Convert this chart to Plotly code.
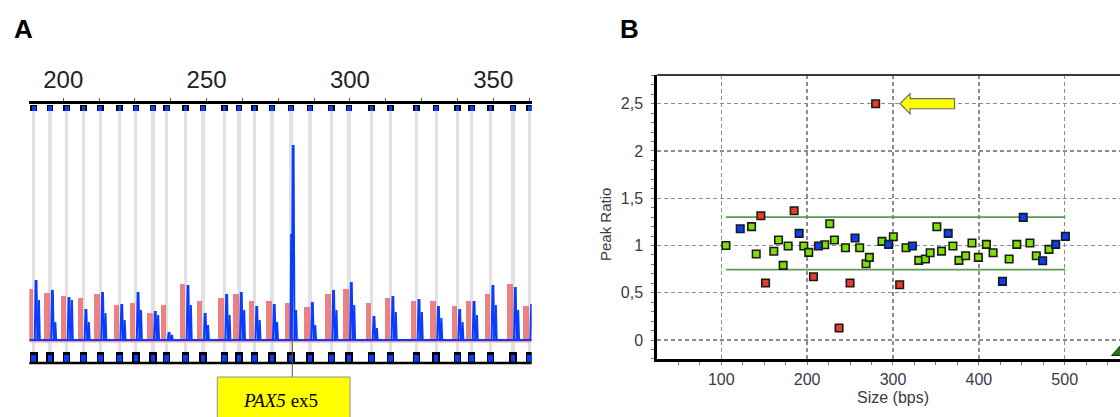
import plotly.graph_objects as go

W, H = 1120, 417

# ---------------- Panel A data (fragment sizes, peak heights) ----------------
bin_sizes = [189.7, 195.4, 201.2, 207.1, 212.9, 219.6, 225.3, 231.3, 236.1, 242.7,
             248.7, 256.2, 261.3, 266.7, 272.8, 279.4, 286.1, 293.5, 299.7, 307.6,
             314.2, 323.3, 330.1, 337.5, 342.5, 349.1, 356.9, 362.6]
red_heights = [52, 48, 45, 43, 47, 36, 38, 28, 36, 57,
               40, 43, 47, 40, 40, 38, 34, 47, 52, 38,
               43, 40, 40, 35, 40, 47, 57, 35]
blue_heights = [59, 49, 42, 30, 47, 35, 47, 28, 7, 54,
                26, 45, 47, 33, 35, 194, 37, 49, 57, 23,
                43, 40, 33, 30, 38, 54, 52, 35]
blue_second_heights = [40, 18, 40, 18, 27, 20, 30, 25, 5, 35,
                       15, 25, 30, 20, 18, 30, 15, 30, 35, 12,
                       28, 28, 22, 18, 25, 35, 30, 22]
blue_shoulder_sizes = [279.6]
blue_shoulder_heights = [105]
label_size = 279.9
label_text = "<i>PAX5</i> ex5"

# ---------------- Panel B data (size vs peak ratio) ----------------
green_size = [105.4, 135.3, 140.7, 161.2, 166.7, 172.1, 177.9, 196.1, 201.9, 220.5,
              226.4, 231.8, 244.6, 261.2, 268.6, 272.5, 287.2, 300.4, 315.2, 330.0,
              337.8, 343.3, 351.1, 356.5, 369.8, 376.8, 384.6, 392.0, 399.4, 408.8,
              416.6, 435.3, 444.2, 459.5, 466.9, 481.7]
green_ratio = [1.0, 1.2, 0.91, 0.94, 1.058, 0.79, 0.994, 0.994, 0.927, 1.008,
               1.23, 1.058, 0.977, 0.977, 0.807, 0.874, 1.044, 1.093, 0.977, 0.843,
               0.857, 0.924, 1.199, 0.941, 0.994, 0.843, 0.892, 1.026, 0.874, 1.012,
               0.924, 0.857, 1.012, 1.026, 0.892, 0.959]
blue_size = [122.1, 190.7, 213.2, 255.8, 294.9, 322.6, 364.3, 427.5, 451.7, 474.3, 489.5, 500.8]
blue_ratio = [1.178, 1.128, 0.994, 1.079, 1.012, 0.994, 1.128, 0.621, 1.298, 0.839, 1.012, 1.097]
red_size = [146.1, 151.6, 184.9, 207.4, 237.2, 250.0, 279.8, 307.8]
red_ratio = [1.315, 0.603, 1.368, 0.67, 0.127, 0.603, 2.5, 0.585]
threshold_upper = 1.3
threshold_lower = 0.745
threshold_span = [105.4, 500.8]
ytick_vals = [0, 0.5, 1, 1.5, 2, 2.5]
ytick_text = ["0", "0,5", "1", "1,5", "2", "2,5"]
arrow_tip = (308.2, 2.5)
arrow_tail = 371.7

# ---------------- helpers ----------------
def fx(px):
    return px / W

def fy(py):
    return (H - py) / H

# Panel A axes geometry: y data = 340 - pixel row (baseline at row 340)
A_XRANGE = [188.14, 363.43]
A_YRANGE = [-25, 236.2]
RED_OFF, BLUE_OFF, BLUE2_OFF = -1.1, 0.8, 1.7

BLUE = "#0a3cff"
RED = "rgba(232,112,112,0.88)"

fig = go.Figure()

# grey bin columns
fig.add_trace(go.Bar(x=bin_sizes, y=[242] * len(bin_sizes), base=-12, width=1.15,
                     marker=dict(color="#e2e2e6", line=dict(width=0)),
                     xaxis="x", yaxis="y", hoverinfo="skip"))
# ruler bin markers (top)
fig.add_trace(go.Bar(x=bin_sizes, y=[6] * len(bin_sizes), base=229.5, width=2.3,
                     marker=dict(color="#000000", line=dict(width=0)),
                     xaxis="x", yaxis="y", hoverinfo="skip"))
fig.add_trace(go.Bar(x=bin_sizes, y=[4.5] * len(bin_sizes), base=229.5, width=1.25,
                     marker=dict(color="#0a3cff", line=dict(width=0)),
                     xaxis="x", yaxis="y", hoverinfo="skip"))
# ruler bin markers (bottom)
fig.add_trace(go.Bar(x=bin_sizes, y=[10] * len(bin_sizes), base=-22, width=2.6,
                     marker=dict(color="#000000", line=dict(width=0)),
                     xaxis="x", yaxis="y", hoverinfo="skip"))
fig.add_trace(go.Bar(x=bin_sizes, y=[7.2] * len(bin_sizes), base=-22, width=1.6,
                     marker=dict(color="#0a3cff", line=dict(width=0)),
                     xaxis="x", yaxis="y", hoverinfo="skip"))

# red trace baseline + peaks
fig.add_trace(go.Scatter(x=A_XRANGE, y=[-1.6, -1.6], mode="lines",
                         line=dict(color="#f0a0a0", width=2), xaxis="x", yaxis="y",
                         hoverinfo="skip"))
fig.add_trace(go.Bar(x=[b + RED_OFF for b in bin_sizes], y=red_heights, base=-1, width=1.9,
                     marker=dict(color=RED, line=dict(width=0)),
                     xaxis="x", yaxis="y", hoverinfo="skip"))

# blue trace
bx, by = [A_XRANGE[0], A_XRANGE[1], None], [0, 0, None]
for b, h, h2 in zip(bin_sizes, blue_heights, blue_second_heights):
    c = b + BLUE_OFF
    bx += [c - 0.45, c - 0.15, c + 0.15, c + 0.45, None]
    by += [0, h, h, 0, None]
    c2 = b + BLUE2_OFF
    bx += [c2 - 0.4, c2 - 0.12, c2 + 0.12, c2 + 0.4, None]
    by += [0, h2, h2, 0, None]
for c, h in zip(blue_shoulder_sizes, blue_shoulder_heights):
    bx += [c - 0.3, c - 0.1, c + 0.3, None]
    by += [0, h, h, None]
fig.add_trace(go.Scatter(x=bx, y=by, mode="lines", line=dict(color=BLUE, width=2),
                         xaxis="x", yaxis="y", hoverinfo="skip", connectgaps=False))

# ---------------- Panel B traces ----------------
for xs_ in ([threshold_span, [threshold_upper] * 2], [threshold_span, [threshold_lower] * 2]):
    fig.add_trace(go.Scatter(x=xs_[0], y=xs_[1], mode="lines",
                             line=dict(color="#5a9a55", width=1.6),
                             xaxis="x2", yaxis="y2", hoverinfo="skip"))

for xs_, ys_, col in ((green_size, green_ratio, "#7fe000"),
                      (blue_size, blue_ratio, "#0a40f5"),
                      (red_size, red_ratio, "#ea3a2a")):
    fig.add_trace(go.Scatter(x=xs_, y=ys_, mode="markers",
                             marker=dict(symbol="square", size=7.5, color=col,
                                         line=dict(color="#1a1a1a", width=1.6)),
                             xaxis="x2", yaxis="y2"))

shapes = []
# bottom ruler line panel A
shapes.append(dict(type="line", xref="x domain", yref="y", x0=0, x1=1, y0=-23, y1=-23,
                   line=dict(color="#000", width=2.6)))
# connector line to label
shapes.append(dict(type="line", xref="x", yref="paper", x0=label_size, x1=label_size,
                   y0=fy(338), y1=fy(377), line=dict(color="#555", width=1)))
# label box
shapes.append(dict(type="rect", xref="paper", yref="paper", x0=fx(217.3), x1=fx(350),
                   y0=fy(440), y1=fy(377), fillcolor="#ffff00",
                   line=dict(color="#909090", width=1)))
# panel B top border
shapes.append(dict(type="line", xref="x2 domain", yref="y2 domain", x0=0, x1=1, y0=1, y1=1,
                   line=dict(color="#3a3a3a", width=2)))
# yellow arrow
tx, ty = arrow_tip
hx = tx + 11.7
path = (f"M {tx},{ty} L {hx},{ty + 0.107} L {hx},{ty + 0.053} L {arrow_tail},{ty + 0.053} "
        f"L {arrow_tail},{ty - 0.053} L {hx},{ty - 0.053} L {hx},{ty - 0.107} Z")
shapes.append(dict(type="path", xref="x2", yref="y2", path=path, fillcolor="#ffff00",
                   line=dict(color="#6e6e6e", width=1.2)))
# green triangle peeking at lower right
tri = f"M {fx(1111.5)},{fy(355.5)} L {fx(1121)},{fy(345)} L {fx(1131)},{fy(355.5)} Z"
shapes.append(dict(type="path", xref="paper", yref="paper", path=tri, fillcolor="#2f6e1a",
                   line=dict(color="#1a3a10", width=1)))

annotations = [
    dict(text="<b>A</b>", x=fx(23.5), y=fy(29), xref="paper", yref="paper", showarrow=False,
         font=dict(family="Liberation Sans", size=26, color="#000"), xanchor="center", yanchor="middle"),
    dict(text="<b>B</b>", x=fx(629), y=fy(29), xref="paper", yref="paper", showarrow=False,
         font=dict(family="Liberation Sans", size=26, color="#000"), xanchor="center", yanchor="middle"),
    dict(text=label_text, x=fx(280), y=fy(400), xref="paper", yref="paper", showarrow=False,
         font=dict(family="Liberation Serif", size=19, color="#000"), xanchor="center", yanchor="middle"),
    dict(text="Peak Ratio", x=fx(605), y=fy(225), xref="paper", yref="paper", showarrow=False,
         textangle=-90, font=dict(family="Liberation Sans", size=15, color="#3a3a48"),
         xanchor="center", yanchor="middle"),
    dict(text="Size (bps)", x=300, y=fy(397), xref="x2", yref="paper", showarrow=False,
         font=dict(family="Liberation Sans", size=16, color="#3a3a48"),
         xanchor="center", yanchor="middle"),
]

fig.update_layout(
    width=W, height=H, margin=dict(l=0, r=0, t=0, b=0),
    paper_bgcolor="white", plot_bgcolor="white", showlegend=False,
    barmode="overlay", bargap=0,
    shapes=shapes, annotations=annotations,
    xaxis=dict(domain=[fx(29.3), fx(531.7)], range=A_XRANGE, side="top", anchor="y",
               showline=True, linecolor="#000", linewidth=3, showgrid=False, zeroline=False,
               ticks="outside", ticklen=3, tickcolor="#555", tickwidth=1,
               tick0=0, dtick=50, ticklabelstandoff=0,
               minor=dict(dtick=12.5, tick0=0, ticks="outside", ticklen=3, tickcolor="#555", showgrid=False),
               tickfont=dict(family="Liberation Sans", size=24, color="#222")),
    yaxis=dict(domain=[fy(365), fy(103.8)], range=A_YRANGE, visible=False, anchor="x"),
    xaxis2=dict(domain=[fx(657.3), 1.0], range=[25.5, 564.4], anchor="y2",
                showline=True, linecolor="#000", linewidth=3, zeroline=False,
                showgrid=True, gridcolor="#8c8c8c", gridwidth=1.4, griddash="4px,3px",
                ticks="outside", ticklen=3, tickcolor="#777", tick0=0, dtick=100,
                ticklabelstandoff=0,
                minor=dict(dtick=25, tick0=0, ticks="outside", ticklen=3, tickcolor="#777", showgrid=False),
                tickfont=dict(family="Liberation Sans", size=16, color="#3a3a48")),
    yaxis2=dict(domain=[fy(359.3), fy(75)], range=[-0.204, 2.804], anchor="x2",
                showline=True, linecolor="#000", linewidth=3, zeroline=False,
                showgrid=True, gridcolor="#8c8c8c", gridwidth=1.4, griddash="4px,3px",
                ticks="outside", ticklen=3, tickcolor="#777",
                tickvals=ytick_vals, ticktext=ytick_text, ticklabelstandoff=5,
                minor=dict(dtick=0.1, tick0=0, ticks="outside", ticklen=3, tickcolor="#777", showgrid=False),
                tickfont=dict(family="Liberation Sans", size=16, color="#3a3a48")),
)

fig.write_html("out.html", config={"displayModeBar": False, "staticPlot": True},
               post_script="document.body.style.margin='0';")
